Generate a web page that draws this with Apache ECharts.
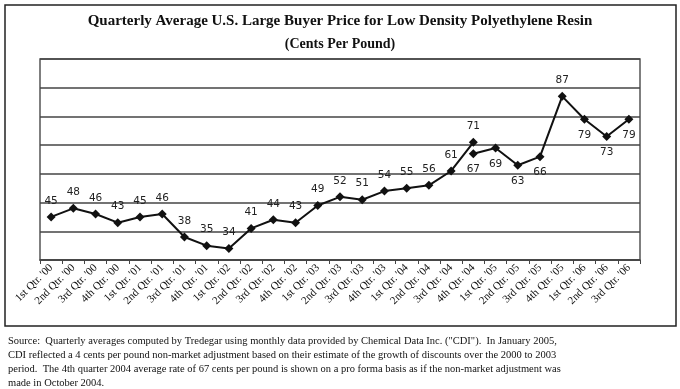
<!DOCTYPE html>
<html><head><meta charset="utf-8">
<script src="https://cdn.jsdelivr.net/npm/echarts@6/dist/echarts.min.js"></script>
<style>html,body{margin:0;padding:0;background:#fff}#c{width:680px;height:389px}</style>
</head><body><div id="c"></div>
<script>
const categories = ["1st Qtr. '00","2nd Qtr. '00","3rd Qtr. '00","4th Qtr. '00",
"1st Qtr. '01","2nd Qtr. '01","3rd Qtr. '01","4th Qtr. '01",
"1st Qtr. '02","2nd Qtr. '02","3rd Qtr. '02","4th Qtr. '02",
"1st Qtr. '03","2nd Qtr. '03","3rd Qtr. '03","4th Qtr. '03",
"1st Qtr. '04","2nd Qtr. '04","3rd Qtr. '04","4th Qtr. '04",
"1st Qtr. '05","2nd Qtr. '05","3rd Qtr. '05","4th Qtr. '05",
"1st Qtr. '06","2nd Qtr. '06","3rd Qtr. '06"];
const reportedValues = [45,48,46,43,45,46,38,35,34,41,44,43,49,52,51,54,55,56,61,71];
const proFormaStart = "4th Qtr. '04";
const proFormaValues = [67,69,63,66,87,79,73,79];
const labelAboveInProForma = [87];
const footnoteLines = [
"Source:  Quarterly averages computed by Tredegar using monthly data provided by Chemical Data Inc. (\"CDI\").  In January 2005,",
"CDI reflected a 4 cents per pound non-market adjustment based on their estimate of the growth of discounts over the 2000 to 2003",
"period.  The 4th quarter 2004 average rate of 67 cents per pound is shown on a pro forma basis as if the non-market adjustment was",
"made in October 2004."
];

const seriesA = categories.map((c,i)=> i < reportedValues.length ? reportedValues[i] : '-');
const startIdx = categories.indexOf(proFormaStart);
const seriesB = categories.map((c,i)=> {
  const j = i - startIdx;
  if (j < 0 || j >= proFormaValues.length) return '-';
  const v = proFormaValues[j];
  if (labelAboveInProForma.includes(v)) return {value:v, label:{position:'top'}};
  return v;
});

const chart = echarts.init(document.getElementById('c'), null, {renderer:'canvas'});
const labelStyle = {show:true, fontFamily:'DejaVu Sans', fontSize:10.5, color:'#222', distance:6};
chart.setOption({
  backgroundColor:'#fff',
  animation:false,
  title:{
    text:'Quarterly Average U.S. Large Buyer Price for Low Density Polyethylene Resin',
    subtext:'(Cents Per Pound)',
    left:'center', top:9, itemGap:8,
    textStyle:{fontFamily:'Liberation Serif', fontWeight:'bold', fontSize:15, color:'#111'},
    subtextStyle:{fontFamily:'Liberation Serif', fontWeight:'bold', fontSize:14, color:'#111'}
  },
  grid:{left:40, right:40, top:59, bottom:129, show:true, borderColor:'#555', borderWidth:1.5, backgroundColor:'#fff'},
  xAxis:{
    type:'category', data:categories, boundaryGap:true,
    axisLine:{show:true, lineStyle:{color:'#444', width:1.5}},
    axisTick:{show:true, alignWithLabel:false, length:4, lineStyle:{color:'#444'}},
    axisLabel:{rotate:45, interval:0, fontFamily:'Liberation Serif', fontSize:11, color:'#111', margin:6}
  },
  yAxis:{
    type:'value', min:30, max:100, interval:10,
    axisLabel:{show:false}, axisTick:{show:false}, axisLine:{show:false},
    splitLine:{show:true, lineStyle:{color:'#444', width:1.5}}
  },
  series:[
    {type:'line', data:seriesA, symbol:'diamond', symbolSize:9, showAllSymbol:true,
     itemStyle:{color:'#111'}, lineStyle:{color:'#111', width:2},
     label:Object.assign({position:'top'}, labelStyle)},
    {type:'line', data:seriesB, symbol:'diamond', symbolSize:9, showAllSymbol:true,
     itemStyle:{color:'#111'}, lineStyle:{color:'#111', width:2},
     label:Object.assign({position:'bottom'}, labelStyle)}
  ],
  graphic:[
    {type:'rect', shape:{x:5, y:5, width:671, height:321}, style:{fill:'none', stroke:'#222', lineWidth:1.5}, silent:true},
    ...footnoteLines.map((t,i)=>({type:'text', left:8, top:336+i*14,
      style:{text:t, font:'10.5px "Liberation Serif"', fill:'#111'}}))
  ]
});
</script></body></html>
